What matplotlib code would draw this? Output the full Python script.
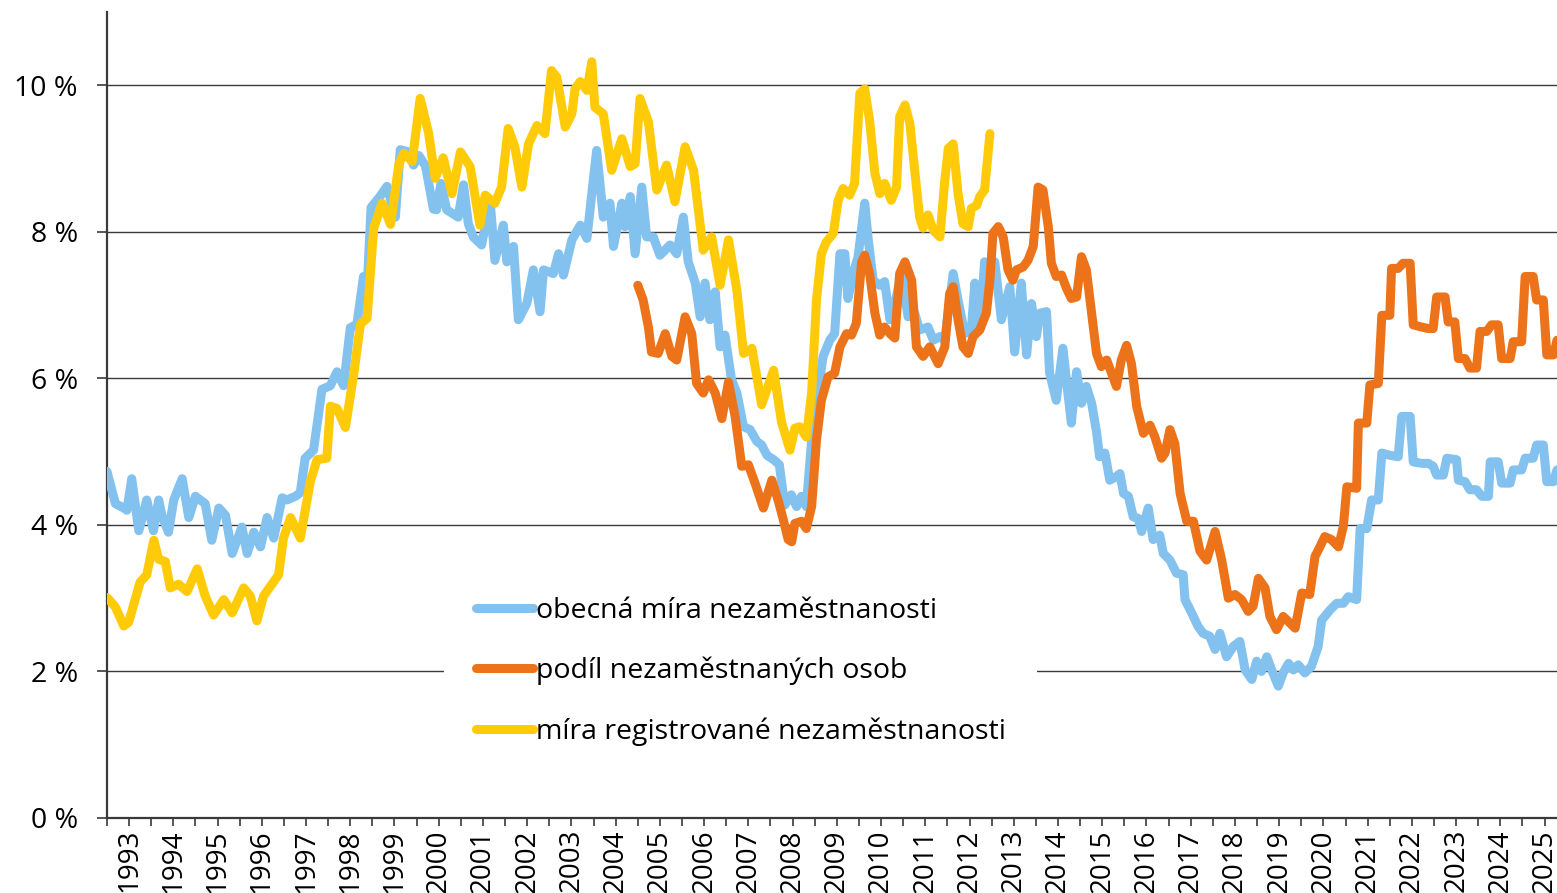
import matplotlib
matplotlib.use('Agg')
import matplotlib.pyplot as plt
import numpy as np

plt.rcParams['font.family'] = ['Open Sans', 'DejaVu Sans']

# obecná míra nezaměstnanosti (decimal year, %)
blue_t = [1993.00, 1993.19, 1993.38, 1993.45, 1993.56, 1993.72, 1993.90, 1994.05, 1994.17, 1994.24,
          1994.39, 1994.51, 1994.70, 1994.85, 1995.00, 1995.22, 1995.37, 1995.53, 1995.68, 1995.83,
          1996.05, 1996.17, 1996.32, 1996.47, 1996.62, 1996.77, 1996.96, 1997.07, 1997.26, 1997.37,
          1997.48, 1997.67, 1997.86, 1998.05, 1998.20, 1998.35, 1998.50, 1998.65, 1998.80, 1998.88,
          1998.97, 1999.18, 1999.33, 1999.52, 1999.63, 1999.82, 1999.93, 2000.05, 2000.20, 2000.38,
          2000.45, 2000.55, 2000.68, 2000.94, 2001.06, 2001.17, 2001.28, 2001.47, 2001.66, 2001.77,
          2001.96, 2002.04, 2002.19, 2002.30, 2002.49, 2002.64, 2002.79, 2002.87, 2003.09, 2003.21,
          2003.32, 2003.51, 2003.70, 2003.85, 2003.96, 2004.07, 2004.22, 2004.37, 2004.45, 2004.64,
          2004.71, 2004.83, 2004.94, 2005.09, 2005.20, 2005.35, 2005.50, 2005.73, 2005.88, 2006.03,
          2006.14, 2006.30, 2006.41, 2006.52, 2006.63, 2006.75, 2006.86, 2006.97, 2007.12, 2007.24,
          2007.39, 2007.54, 2007.69, 2007.80, 2007.92, 2008.07, 2008.20, 2008.32, 2008.47, 2008.59,
          2008.70, 2008.81, 2008.93, 2009.08, 2009.19, 2009.34, 2009.45, 2009.57, 2009.68, 2009.75,
          2009.87, 2009.98, 2010.13, 2010.21, 2010.32, 2010.47, 2010.58, 2010.70, 2010.81, 2010.96,
          2011.11, 2011.26, 2011.37, 2011.56, 2011.68, 2011.83, 2011.94, 2012.13, 2012.24, 2012.39,
          2012.54, 2012.62, 2012.73, 2012.84, 2012.92, 2013.07, 2013.22, 2013.41, 2013.52, 2013.67,
          2013.79, 2013.90, 2014.01, 2014.09, 2014.24, 2014.31, 2014.46, 2014.61, 2014.80, 2014.92,
          2015.03, 2015.14, 2015.26, 2015.37, 2015.44, 2015.56, 2015.67, 2015.82, 2015.90, 2015.98,
          2016.09, 2016.20, 2016.31, 2016.39, 2016.54, 2016.65, 2016.80, 2016.88, 2017.03, 2017.18,
          2017.33, 2017.37, 2017.52, 2017.67, 2017.78, 2017.93, 2018.05, 2018.16, 2018.31, 2018.46,
          2018.61, 2018.73, 2018.88, 2018.99, 2019.10, 2019.22, 2019.33, 2019.48, 2019.59, 2019.71,
          2019.82, 2019.93, 2020.08, 2020.23, 2020.38, 2020.46, 2020.65, 2020.80, 2020.95, 2021.06,
          2021.25, 2021.33, 2021.48, 2021.59, 2021.74, 2021.82, 2022.00, 2022.19, 2022.27, 2022.46,
          2022.53, 2022.72, 2022.87, 2022.98, 2023.06, 2023.21, 2023.29, 2023.51, 2023.55, 2023.70,
          2023.81, 2023.96, 2024.08, 2024.23, 2024.27, 2024.45, 2024.53, 2024.72, 2024.79, 2024.98,
          2025.06, 2025.24, 2025.32, 2025.47, 2025.55, 2025.70, 2025.78]
blue_v = [4.73, 4.29, 4.23, 4.20, 4.63, 3.92, 4.34, 3.92, 4.34, 4.13,
          3.90, 4.34, 4.63, 4.10, 4.39, 4.29, 3.79, 4.23, 4.13, 3.61,
          3.97, 3.61, 3.90, 3.70, 4.10, 3.82, 4.37, 4.34, 4.39, 4.44,
          4.91, 5.02, 5.85, 5.90, 6.09, 5.90, 6.69, 6.74, 7.39, 7.21,
          8.33, 8.49, 8.62, 8.20, 9.12, 9.09, 8.91, 9.04, 8.90, 8.31,
          8.30, 8.66, 8.30, 8.20, 8.64, 8.11, 7.93, 7.82, 8.43, 7.61,
          8.09, 7.59, 7.80, 6.80, 7.02, 7.48, 6.91, 7.48, 7.43, 7.70,
          7.41, 7.89, 8.09, 7.91, 8.52, 9.11, 8.20, 8.39, 7.80, 8.39,
          8.07, 8.48, 7.70, 8.61, 7.93, 7.93, 7.68, 7.82, 7.70, 8.20,
          7.59, 7.30, 6.84, 7.30, 6.80, 7.18, 6.43, 6.59, 5.98, 5.80,
          5.34, 5.30, 5.14, 5.09, 4.95, 4.89, 4.82, 4.27, 4.41, 4.25,
          4.39, 4.25, 5.16, 5.84, 6.30, 6.52, 6.61, 7.70, 7.70, 7.09,
          7.43, 7.66, 8.39, 7.89, 7.34, 7.27, 7.32, 6.80, 7.02, 7.43,
          6.84, 6.89, 6.66, 6.70, 6.52, 6.57, 6.52, 7.43, 7.07, 6.61,
          6.66, 7.30, 6.66, 7.59, 7.25, 7.59, 6.80, 7.25, 6.36, 7.30,
          6.32, 7.02, 6.57, 6.89, 6.91, 6.07, 5.70, 6.41, 5.39, 6.09,
          5.66, 5.89, 5.66, 5.27, 4.93, 4.98, 4.61, 4.66, 4.70, 4.43,
          4.39, 4.11, 4.09, 3.91, 4.23, 3.80, 3.86, 3.61, 3.52, 3.34,
          3.32, 2.98, 2.80, 2.61, 2.52, 2.48, 2.30, 2.52, 2.20, 2.34,
          2.41, 2.02, 1.89, 2.14, 2.00, 2.20, 2.02, 1.80, 1.98, 2.11,
          2.02, 2.09, 1.98, 2.07, 2.34, 2.70, 2.84, 2.93, 2.93, 3.02,
          2.98, 3.95, 3.95, 4.34, 4.34, 4.98, 4.95, 4.93, 5.48, 5.48,
          4.86, 4.84, 4.84, 4.80, 4.68, 4.68, 4.91, 4.89, 4.61, 4.59,
          4.48, 4.48, 4.39, 4.39, 4.86, 4.86, 4.57, 4.57, 4.75, 4.75,
          4.91, 4.91, 5.09, 5.09, 4.59, 4.59, 4.75]

# podíl nezaměstnaných osob
orange_t = [2005.00, 2005.12, 2005.24, 2005.31, 2005.46, 2005.62, 2005.77, 2005.88, 2006.07, 2006.22,
            2006.33, 2006.48, 2006.60, 2006.75, 2006.90, 2007.05, 2007.20, 2007.35, 2007.50, 2007.65,
            2007.84, 2008.03, 2008.18, 2008.29, 2008.40, 2008.48, 2008.55, 2008.70, 2008.81, 2008.93,
            2009.04, 2009.15, 2009.30, 2009.45, 2009.57, 2009.72, 2009.83, 2009.94, 2010.06, 2010.13,
            2010.24, 2010.36, 2010.47, 2010.58, 2010.70, 2010.81, 2010.92, 2011.04, 2011.19, 2011.30,
            2011.45, 2011.60, 2011.79, 2011.94, 2012.05, 2012.13, 2012.24, 2012.35, 2012.47, 2012.58,
            2012.73, 2012.88, 2012.96, 2013.03, 2013.15, 2013.26, 2013.37, 2013.48, 2013.56, 2013.71,
            2013.82, 2013.94, 2014.05, 2014.16, 2014.28, 2014.35, 2014.46, 2014.58, 2014.69, 2014.80,
            2014.92, 2015.03, 2015.14, 2015.26, 2015.37, 2015.48, 2015.60, 2015.71, 2015.82, 2015.93,
            2016.05, 2016.16, 2016.28, 2016.43, 2016.58, 2016.69, 2016.84, 2016.92, 2017.03, 2017.14,
            2017.26, 2017.41, 2017.56, 2017.71, 2017.86, 2018.05, 2018.20, 2018.35, 2018.50, 2018.65,
            2018.80, 2018.91, 2019.03, 2019.18, 2019.29, 2019.44, 2019.59, 2019.71, 2019.86, 2020.01,
            2020.19, 2020.31, 2020.42, 2020.53, 2020.68, 2020.84, 2020.95, 2021.03, 2021.25, 2021.29,
            2021.48, 2021.55, 2021.74, 2021.82, 2022.00, 2022.04, 2022.19, 2022.30, 2022.46, 2022.53,
            2022.72, 2022.87, 2022.98, 2023.06, 2023.25, 2023.32, 2023.47, 2023.55, 2023.70, 2023.81,
            2023.96, 2024.04, 2024.19, 2024.30, 2024.45, 2024.53, 2024.72, 2024.79, 2024.98, 2025.06,
            2025.24, 2025.32, 2025.47, 2025.55, 2025.70, 2025.78]
orange_v = [7.27, 7.07, 6.70, 6.36, 6.34, 6.61, 6.30, 6.25, 6.84, 6.61,
            5.93, 5.80, 5.98, 5.80, 5.45, 5.95, 5.48, 4.80, 4.82, 4.57,
            4.23, 4.61, 4.32, 4.07, 3.80, 3.77, 4.02, 4.05, 3.95, 4.25,
            5.16, 5.70, 6.02, 6.07, 6.43, 6.61, 6.59, 6.75, 7.59, 7.68,
            7.43, 6.89, 6.59, 6.70, 6.61, 6.55, 7.43, 7.59, 7.34, 6.43,
            6.30, 6.43, 6.20, 6.43, 7.16, 7.25, 6.80, 6.43, 6.34, 6.57,
            6.66, 6.89, 7.34, 7.98, 8.07, 7.93, 7.48, 7.34, 7.48, 7.52,
            7.61, 7.80, 8.61, 8.57, 8.07, 7.57, 7.39, 7.41, 7.23, 7.09,
            7.11, 7.66, 7.48, 6.89, 6.34, 6.16, 6.25, 6.07, 5.89, 6.25,
            6.45, 6.20, 5.61, 5.25, 5.36, 5.20, 4.91, 4.98, 5.30, 5.11,
            4.43, 4.05, 4.05, 3.64, 3.52, 3.91, 3.52, 3.00, 3.05, 2.98,
            2.82, 2.89, 3.27, 3.14, 2.75, 2.57, 2.75, 2.68, 2.59, 3.07,
            3.05, 3.57, 3.70, 3.84, 3.80, 3.70, 3.98, 4.52, 4.50, 5.39,
            5.39, 5.91, 5.93, 6.86, 6.86, 7.50, 7.50, 7.57, 7.57, 6.73,
            6.70, 6.68, 6.68, 7.11, 7.11, 6.77, 6.77, 6.27, 6.27, 6.14,
            6.14, 6.64, 6.64, 6.73, 6.73, 6.27, 6.27, 6.50, 6.50, 7.39,
            7.39, 7.07, 7.07, 6.32, 6.32, 6.52]

# míra registrované nezaměstnanosti
yellow_t = [1993.00, 1993.19, 1993.38, 1993.49, 1993.75, 1993.90, 1994.06, 1994.17, 1994.32, 1994.43,
            1994.62, 1994.81, 1995.04, 1995.22, 1995.41, 1995.64, 1995.83, 1996.09, 1996.24, 1996.39,
            1996.54, 1996.73, 1996.88, 1996.99, 1997.15, 1997.37, 1997.60, 1997.75, 1997.97, 1998.05,
            1998.20, 1998.39, 1998.58, 1998.73, 1998.88, 1999.03, 1999.22, 1999.41, 1999.60, 1999.71,
            1999.90, 2000.08, 2000.27, 2000.42, 2000.60, 2000.80, 2000.99, 2001.21, 2001.43, 2001.55,
            2001.77, 2001.92, 2002.07, 2002.22, 2002.38, 2002.53, 2002.72, 2002.90, 2003.05, 2003.17,
            2003.36, 2003.51, 2003.58, 2003.70, 2003.85, 2003.96, 2004.03, 2004.22, 2004.41, 2004.64,
            2004.83, 2004.94, 2005.05, 2005.24, 2005.43, 2005.65, 2005.84, 2006.07, 2006.26, 2006.48,
            2006.67, 2006.86, 2007.05, 2007.24, 2007.39, 2007.58, 2007.80, 2008.07, 2008.25, 2008.44,
            2008.55, 2008.66, 2008.81, 2008.93, 2009.04, 2009.15, 2009.26, 2009.42, 2009.53, 2009.64,
            2009.79, 2009.90, 2010.02, 2010.13, 2010.24, 2010.36, 2010.47, 2010.58, 2010.73, 2010.85,
            2010.92, 2011.04, 2011.15, 2011.26, 2011.37, 2011.45, 2011.56, 2011.68, 2011.83, 2011.94,
            2012.02, 2012.13, 2012.24, 2012.35, 2012.47, 2012.54, 2012.66, 2012.73, 2012.84, 2012.96]
yellow_v = [3.01, 2.88, 2.62, 2.67, 3.22, 3.32, 3.79, 3.53, 3.50, 3.14,
            3.19, 3.09, 3.40, 3.03, 2.77, 2.98, 2.80, 3.14, 3.03, 2.69,
            3.03, 3.19, 3.32, 3.82, 4.10, 3.82, 4.60, 4.89, 4.91, 5.62,
            5.59, 5.33, 6.06, 6.74, 6.82, 8.05, 8.39, 8.10, 8.93, 9.07,
            8.96, 9.82, 9.35, 8.73, 9.01, 8.52, 9.09, 8.89, 8.09, 8.50,
            8.39, 8.61, 9.41, 9.16, 8.61, 9.20, 9.45, 9.34, 10.20, 10.11,
            9.43, 9.61, 9.95, 10.05, 9.93, 10.32, 9.70, 9.61, 8.84, 9.27,
            8.89, 8.93, 9.82, 9.50, 8.57, 8.91, 8.41, 9.16, 8.84, 7.75,
            7.93, 7.27, 7.89, 7.20, 6.34, 6.41, 5.64, 6.11, 5.40, 5.02,
            5.32, 5.34, 5.20, 5.80, 7.07, 7.70, 7.86, 7.98, 8.43, 8.59,
            8.50, 8.66, 9.89, 9.95, 9.52, 8.80, 8.52, 8.66, 8.43, 8.61,
            9.57, 9.73, 9.48, 8.84, 8.20, 8.05, 8.23, 8.02, 7.93, 8.70,
            9.14, 9.20, 8.52, 8.11, 8.07, 8.32, 8.36, 8.48, 8.57, 9.34]

years = list(range(1993, 2026))
y_ticks = [0, 2, 4, 6, 8, 10]
labels = ['obecná míra nezaměstnanosti', 'podíl nezaměstnaných osob',
          'míra registrované nezaměstnanosti']

fig = plt.figure(figsize=(15.57, 8.93), dpi=100)
ax = fig.add_axes([0.0687, 0.084, 0.9313, 0.9026])

grid_c = '#3a3a3a'
for v in y_ticks[1:]:
    ax.axhline(v, color=grid_c, lw=1.0, zorder=1)

style = dict(lw=6.5, solid_joinstyle='round', solid_capstyle='round', zorder=3)
ax.plot(blue_t, blue_v, color='#83C1EE', label=labels[0], **style)
ax.plot(orange_t, orange_v, color='#EC7319', label=labels[1], **style)
ax.plot(yellow_t, yellow_v, color='#FFCB08', label=labels[2], **style)

ax.set_xlim(1993, 2025.78)
ax.set_ylim(0, 11)

ax.set_xticks([y + 0.5 for y in years])
ax.set_xticklabels([str(y) for y in years], rotation=90, fontsize=20)
ax.set_xticks(years, minor=True)
ax.tick_params(axis='x', which='both', length=6, width=1.2, color=grid_c, pad=2)

ax.set_yticks(y_ticks)
ax.set_yticklabels([f'{v} %' for v in y_ticks], fontsize=20.5)
ax.tick_params(axis='y', length=7, width=1.2, color=grid_c, pad=14)

for s in ['top', 'right']:
    ax.spines[s].set_visible(False)
for s in ['left', 'bottom']:
    ax.spines[s].set_color(grid_c)
    ax.spines[s].set_linewidth(1.6)

leg = ax.legend(loc='center', bbox_to_anchor=(0.437, 0.182), fontsize=20.5,
                frameon=True, facecolor='white', edgecolor='none', framealpha=1,
                handlelength=2.0, handletextpad=0.1, labelspacing=1.12,
                borderpad=1.1, fancybox=False)
leg.set_zorder(5)

fig.savefig('out.png', dpi=100)
